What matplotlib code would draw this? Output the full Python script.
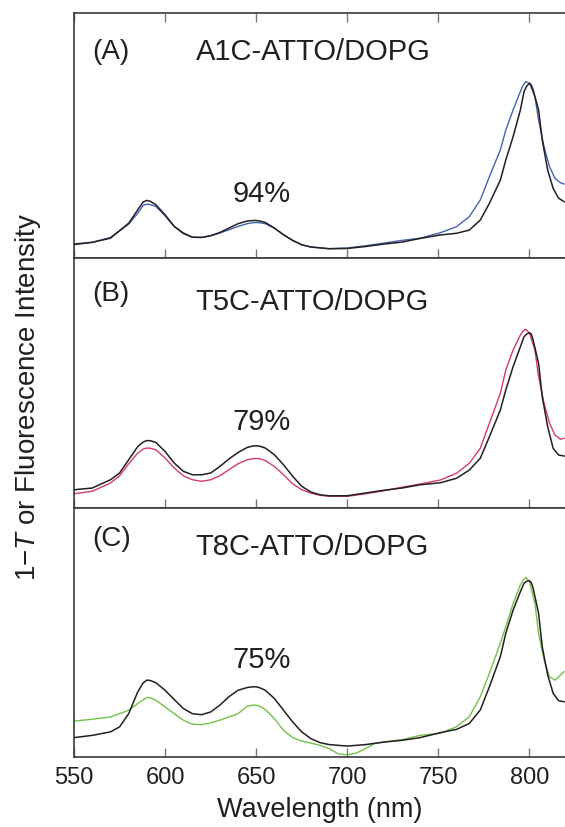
import matplotlib

matplotlib.use("Agg")
import matplotlib.pyplot as plt

plt.rcParams["font.family"] = ["Liberation Sans", "DejaVu Sans"]
plt.rcParams["mathtext.fontset"] = "custom"
plt.rcParams["mathtext.rm"] = "Liberation Sans"
plt.rcParams["mathtext.it"] = "Liberation Sans:italic"

INK = "#231f20"
SPINE = "#3a3a3a"
BLUE = "#4563b2"
PINK = "#d23c6a"
GREEN = "#74c04a"

# ---- panel (A) A1C-ATTO/DOPG ----
WL_A_BLACK = [550, 560, 570, 580, 585, 588, 590, 592, 595, 600, 605, 610, 615, 620, 625,
              630, 635, 640, 645, 648, 650, 652, 655, 660, 665, 670, 675, 680, 690, 700,
              710, 720, 730, 740, 751, 760, 767, 773, 778, 784, 787, 791, 795, 797, 798.5,
              800, 801, 802, 805, 807, 810, 813, 816, 819]
A_BLACK = [5.7, 6.4, 8.1, 14.2, 19.7, 22.9, 23.5, 23.1, 21.7, 17.6, 12.9, 10.2, 8.5, 8.4, 9.1,
           10.4, 12.2, 14.0, 15.1, 15.3, 15.3, 15.1, 14.5, 12.2, 9.5, 7.2, 5.4, 4.5, 3.8, 3.9,
           4.7, 5.7, 6.5, 8.0, 9.4, 10.1, 11.4, 15.5, 22.3, 31.8, 40.0, 49.5, 60.4, 67.9, 70.2,
           71.3, 70.6, 68.6, 60.4, 48.2, 35.9, 28.4, 24.4, 23.0]
WL_A_BLUE = [550, 560, 570, 580, 585, 588, 590, 592, 595, 600, 605, 610, 615, 620, 625,
             630, 635, 640, 645, 648, 650, 652, 655, 660, 665, 670, 675, 680, 690, 700,
             710, 720, 730, 740, 751, 760, 767, 773, 778, 784, 787, 791, 795, 796.5, 798,
             800, 803, 805, 808, 811, 814, 817, 819]
A_BLUE = [5.4, 6.4, 8.4, 13.8, 18.3, 21.5, 22.0, 21.8, 21.0, 17.2, 12.9, 9.9, 8.5, 8.4, 9.1,
          10.2, 11.5, 12.9, 14.0, 14.4, 14.5, 14.4, 14.0, 12.2, 9.5, 7.2, 5.4, 4.5, 3.8, 4.1,
          5.0, 6.1, 7.2, 8.1, 10.3, 12.8, 16.9, 23.7, 33.2, 44.1, 52.2, 60.4, 67.9, 70.5, 72.0,
          71.3, 65.8, 56.3, 45.4, 37.3, 32.5, 30.7, 30.2]

# ---- panel (B) T5C-ATTO/DOPG ----
WL_B_BLACK = [550, 560, 570, 575, 580, 585, 588, 590, 592, 595, 600, 605, 610, 615, 620,
              625, 630, 635, 640, 645, 648, 650, 652, 655, 660, 665, 670, 675, 680, 685,
              690, 700, 710, 720, 730, 740, 751, 760, 767, 773, 778, 784, 787, 791, 795,
              797, 798.5, 800, 801, 802, 805, 807, 810, 813, 816, 819]
B_BLACK = [7.3, 8.0, 11.3, 14.0, 19.3, 24.6, 26.4, 27.0, 26.9, 26.2, 22.6, 18.0, 14.7, 13.3, 13.3,
           14.0, 16.6, 19.6, 22.2, 24.2, 24.8, 24.9, 24.7, 24.0, 21.3, 17.3, 12.7, 8.7, 6.4, 5.3,
           4.9, 4.9, 6.0, 7.1, 8.0, 9.3, 10.1, 11.9, 15.2, 19.9, 28.5, 39.2, 47.2, 56.5, 64.5,
           68.5, 69.6, 70.1, 69.6, 67.2, 57.9, 44.5, 32.5, 23.9, 21.2, 20.8]
WL_B_PINK = [550, 560, 570, 575, 580, 585, 588, 590, 592, 595, 600, 605, 610, 615, 620,
             625, 630, 635, 640, 645, 648, 650, 652, 655, 660, 665, 670, 675, 680, 685,
             690, 700, 710, 720, 730, 740, 751, 760, 767, 773, 778, 784, 787, 791, 795,
             796.5, 798, 800, 803, 805, 808, 811, 814, 817, 819]
B_PINK = [5.7, 6.7, 10.0, 12.9, 17.7, 22.0, 23.6, 24.0, 23.9, 23.3, 20.0, 16.0, 12.9, 11.3, 10.7,
          11.3, 12.9, 15.3, 17.7, 19.3, 19.7, 19.8, 19.7, 19.0, 16.6, 13.3, 9.7, 7.3, 6.0, 5.1,
          4.7, 4.7, 5.7, 6.9, 8.3, 9.6, 11.2, 13.9, 17.9, 23.9, 33.9, 45.9, 55.2, 63.2, 69.2,
          70.8, 71.5, 69.9, 63.2, 52.5, 41.9, 33.9, 29.2, 27.5, 27.9]

# ---- panel (C) T8C-ATTO/DOPG ----
WL_C_BLACK = [550, 560, 570, 575, 580, 585, 588, 590, 592, 595, 600, 605, 610, 615, 620,
              625, 630, 635, 640, 645, 648, 650, 652, 655, 660, 665, 670, 675, 680, 685,
              690, 700, 710, 720, 730, 740, 751, 760, 767, 773, 778, 784, 787, 791, 795,
              797, 798.5, 800, 801, 802, 805, 807, 810, 813, 816, 819]
C_BLACK = [7.8, 8.7, 10.1, 12.1, 17.4, 26.2, 29.8, 30.9, 30.7, 29.8, 26.8, 23.1, 19.5, 17.4, 17.0,
           18.1, 20.8, 24.2, 26.8, 27.9, 28.2, 28.2, 27.8, 26.8, 23.5, 18.8, 14.1, 10.1, 7.4, 5.8,
           5.0, 4.4, 5.0, 6.0, 6.7, 7.8, 9.8, 11.1, 13.5, 18.9, 28.2, 40.3, 49.7, 59.0, 66.4,
           69.8, 70.6, 70.8, 70.0, 67.8, 57.7, 44.3, 32.9, 25.6, 22.6, 22.2]
WL_C_GREEN = [550, 560, 570, 575, 580, 585, 588, 590, 592, 595, 600, 605, 610, 615, 620,
              625, 630, 635, 640, 645, 648, 650, 652, 655, 660, 665, 670, 675, 680, 685,
              690, 695, 700, 705, 710, 715, 720, 730, 740, 751, 760, 767, 773, 778, 784,
              787, 791, 795, 796.5, 798, 800, 803, 805, 808, 811, 814, 817, 819]
C_GREEN = [14.4, 15.2, 16.1, 17.4, 18.8, 21.5, 23.0, 23.9, 23.8, 22.8, 20.1, 17.4, 14.8, 13.2, 13.0,
           13.7, 14.8, 16.1, 17.4, 20.4, 20.8, 20.8, 20.4, 19.1, 15.4, 10.7, 7.8, 6.4, 5.6, 4.7,
           3.4, 1.3, 0.9, 1.6, 3.4, 5.4, 6.0, 7.0, 8.7, 9.5, 12.2, 16.2, 24.2, 33.6, 45.7,
           52.3, 61.6, 69.1, 71.0, 72.2, 70.4, 61.6, 49.7, 39.0, 32.2, 30.9, 32.9, 34.3]

PANELS = [
    ("(A)", "A1C-ATTO/DOPG", "94%", (WL_A_BLACK, A_BLACK), (WL_A_BLUE, A_BLUE), BLUE),
    ("(B)", "T5C-ATTO/DOPG", "79%", (WL_B_BLACK, B_BLACK), (WL_B_PINK, B_PINK), PINK),
    ("(C)", "T8C-ATTO/DOPG", "75%", (WL_C_BLACK, C_BLACK), (WL_C_GREEN, C_GREEN), GREEN),
]
XTICKS = [550, 600, 650, 700, 750, 800]

# layout (figure fractions), text spots (axes fractions)
BOXES = [(0.131, 0.688, 0.869, 0.2963),
         (0.131, 0.3857, 0.869, 0.3023),
         (0.131, 0.0846, 0.869, 0.3011)]
TAG_Y = [0.84, 0.856, 0.875]
TITLE_Y = [0.84, 0.824, 0.844]
PCT_Y = [0.26, 0.345, 0.39]


def main():
    fig = plt.figure(figsize=(5.65, 8.27), dpi=100, facecolor="white")
    axes = []
    for i, (tag, title, pct, black, other, col) in enumerate(PANELS):
        ax = fig.add_axes(BOXES[i])
        axes.append(ax)
        ax.plot(*other, color=col, lw=1.0, zorder=2)
        ax.plot(*black, color=INK, lw=1.1, zorder=3)
        ax.set_xlim(550, 819.5)
        ax.set_ylim(0, 100)
        ax.set_yticks([])
        ax.spines["right"].set_visible(False)
        for s in ("left", "top", "bottom"):
            ax.spines[s].set_color(SPINE)
            ax.spines[s].set_linewidth(1.2)
        ax.set_xticks(XTICKS)
        ax.tick_params(axis="x", direction="in", length=6.5, width=1.0,
                       color="#777777", top=(i == 0), labelsize=17,
                       labelcolor=INK, pad=7)
        if i < 2:
            ax.tick_params(axis="x", labelbottom=False)
        ax.text(0.037, TAG_Y[i], tag, transform=ax.transAxes, fontsize=20,
                color=INK, va="center", ha="left")
        ax.text(0.248, TITLE_Y[i], title, transform=ax.transAxes, fontsize=21,
                color=INK, va="center", ha="left")
        ax.text(653, PCT_Y[i], pct, transform=ax.get_xaxis_transform(),
                fontsize=21, color=INK, va="center", ha="center")

    axes[-1].set_xlabel("Wavelength (nm)", fontsize=19.5, color=INK, labelpad=6)
    fig.text(0.05, 0.52, r"1$-\mathit{T}$ or Fluorescence Intensity",
             rotation=90, fontsize=20, color=INK, ha="center", va="center")
    fig.savefig("out.png", dpi=100, facecolor="white")
    plt.close(fig)


if __name__ == "__main__":
    main()
